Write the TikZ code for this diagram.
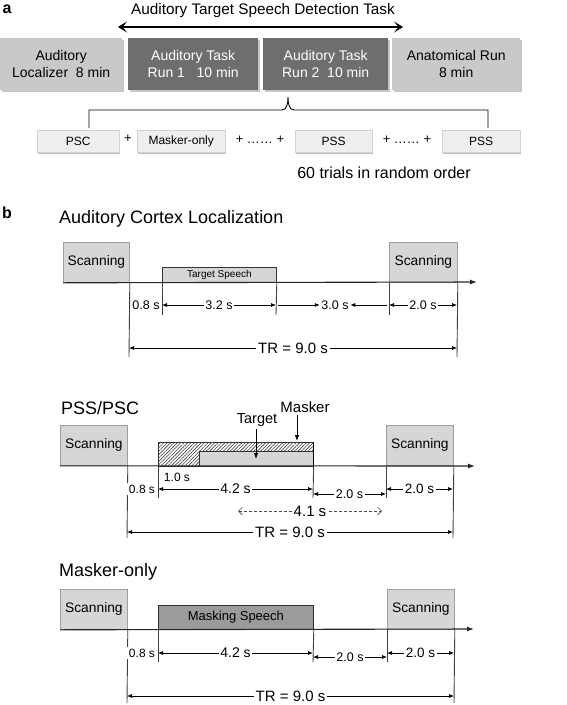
\documentclass[tikz,border=0pt]{standalone}
\usepackage{fontspec}
\setmainfont{Liberation Sans}
\usetikzlibrary{
    positioning,
    arrows.meta,
    shadows,
    patterns.meta,
    calc
}

\definecolor{runlightfill}{HTML}{C9C9C9}
\definecolor{rundarkfill}{HTML}{6E6E6E}
\definecolor{trialfill}{HTML}{EFEFEF}
\definecolor{scanfill}{HTML}{D6D6D6}
\definecolor{maskfill}{HTML}{9B9B9B}

\begin{document}
\begin{tikzpicture}[
    x=1pt, y=-1pt,
    % Estilos de cajas (parte a)
    run_light/.style={rectangle, anchor=north west, inner sep=0pt, align=center, fill=runlightfill,
        font=\fontsize{14}{17}\selectfont, drop shadow={shadow xshift=1.5pt, shadow yshift=-1.5pt, opacity=0.45}},
    run_dark/.style={run_light, fill=rundarkfill, text=white},
    trial_box/.style={rectangle, anchor=north west, inner sep=0pt, minimum height=22, fill=trialfill,
        draw=gray!35, font=\fontsize{12}{14}\selectfont, drop shadow={shadow xshift=0.5pt, shadow yshift=-1.5pt, opacity=0.5}},
    plain/.style={inner sep=1pt, font=\fontsize{13}{15}\selectfont},
    tag/.style={inner sep=0pt, font=\fontsize{16}{18}\selectfont\bfseries},
    heading/.style={inner sep=0pt, font=\fontsize{15.3}{18}\selectfont},
    section/.style={anchor=west, inner sep=0pt, font=\fontsize{18}{21}\selectfont},
    % Estilos de cajas (parte b)
    scan_box/.style={rectangle, anchor=north west, inner sep=0pt, minimum height=40, fill=scanfill,
        draw=gray!75, line width=0.8pt, font=\fontsize{13.8}{16}\selectfont},
    speech_box/.style={rectangle, anchor=north west, inner sep=0pt, fill=scanfill, draw=black!80, line width=0.8pt},
    masker_box/.style={rectangle, anchor=north west, inner sep=0pt, draw=black!80, line width=0.8pt,
        pattern={Lines[angle=45, distance=2.4pt, line width=0.6pt]}, pattern color=black!75},
    % Estilos de flechas
    big_arrow/.style={{Stealth[length=9pt, width=11pt, inset=4.5pt]}-{Stealth[length=9pt, width=11pt, inset=4.5pt]}, line width=1.8pt},
    axis/.style={-{Latex[length=7pt, width=5pt]}, line width=1.1pt, draw=black!85},
    tick/.style={draw=black!75, line width=0.9pt},
    dim/.style={{Latex[length=5pt, width=4pt]}-{Latex[length=5pt, width=4pt]}, line width=0.7pt},
    dim_in/.style={-{Latex[length=5pt, width=4pt]}, line width=0.7pt},
    dashed_dim/.style={{Straight Barb[length=4pt, width=8pt]}-{Straight Barb[length=4pt, width=8pt]}, densely dashed, line width=0.6pt, draw=black!70},
    ptr/.style={-{Latex[length=6pt, width=4.5pt]}, line width=0.8pt},
    dim_lbl/.style={fill=white, inner sep=1.5pt, font=\fontsize{12.5}{14}\selectfont},
    big_lbl/.style={fill=white, inner sep=2pt, font=\fontsize{15}{17}\selectfont}
]
\useasboundingbox (0,0) rectangle (567,705);

% --- PARTE a: secuencia de corridas ---
\node[tag] (tag_a) at (7,9) {a};
\node[heading] (task) at (263,11) {Auditory Target Speech Detection Task};
\coordinate (task_l) at (118,27);
\coordinate (task_r) at (403,27);
\draw[big_arrow] (task_l) -- (task_r);

\node[run_light, minimum width=122, minimum height=52] (loc) at (0,38) {Auditory\\Localizer\ \ 8 min};
\node[run_dark, minimum width=130, minimum height=52] (run1) at (128,38) {Auditory Task\\Run 1\ \ \ 10 min};
\node[run_dark, minimum width=125, minimum height=52] (run2) at (263,38) {Auditory Task\\Run 2\ \ 10 min};
\node[run_light, minimum width=128, minimum height=52] (anat) at (392,38) {Anatomical Run\\8 min};

% llave bajo Run 2
\coordinate (br_l) at (89,128);
\coordinate (br_r) at (488,128);
\coordinate (br_t) at (288,97);
\draw[line width=0.9pt] (br_l) |- ($(br_t)+(-6,13)$) .. controls ($(br_t)+(-1,13)$) and ($(br_t)+(0,6)$) .. (br_t)
    .. controls ($(br_t)+(0,6)$) and ($(br_t)+(1,13)$) .. ($(br_t)+(6,13)$) -| (br_r);

% --- ensayos ---
\node[trial_box, minimum width=82] (psc) at (37,130) {PSC};
\node[trial_box, minimum width=88] (mko) at (137,130) {Masker-only};
\node[trial_box, minimum width=77] (pss_a) at (295,130) {PSS};
\node[trial_box, minimum width=78] (pss_b) at (442,130) {PSS};
\node[plain] (plus_a) at (128,139) {+};
\node[plain] (dots_a) at (260,140) {+ \ldots\ldots\ +};
\node[plain] (dots_b) at (407,140) {+ \ldots\ldots\ +};
\node[inner sep=0pt, font=\fontsize{16}{18}\selectfont] (order) at (384,173) {60 trials in random order};

% --- PARTE b: Auditory Cortex Localization ---
\node[tag] (tag_b) at (7,213) {b};
\node[section] (acl) at (59,219) {Auditory Cortex Localization};

\node[scan_box, minimum width=66] (scan1_l) at (63,242) {Scanning};
\node[scan_box, minimum width=68] (scan1_r) at (389,242) {Scanning};
\node[speech_box, minimum width=114, minimum height=15, font=\fontsize{10}{12}\selectfont] (tsp1) at (162,267) {Target Speech};
\coordinate (ax1) at (477,282);
\draw[axis] (scan1_l.south west) -- (ax1);

\coordinate (t1_a) at (129,357);
\coordinate (t1_b) at (162,315);
\coordinate (t1_c) at (276,315);
\coordinate (t1_d) at (389,315);
\coordinate (t1_e) at (457,357);
\draw[tick] (scan1_l.south east) -- (t1_a);
\draw[tick] (tsp1.south west) -- (t1_b);
\draw[tick] (tsp1.south east) -- (t1_c);
\draw[tick] (scan1_r.south west) -- (t1_d);
\draw[tick] (scan1_r.south east) -- (t1_e);

\node[dim_lbl] (l08_1) at (146,305) {0.8 s};
\coordinate (d1_b) at (162,305);
\coordinate (d1_c) at (276,305);
\coordinate (d1_d) at (389,305);
\coordinate (d1_e) at (457,305);
\draw[dim] (d1_b) -- node[dim_lbl] (l32_1) {3.2 s} (d1_c);
\node[dim_lbl] (l30_1) at (335,305) {3.0 s};
\draw[dim_in] ($(d1_c)+(2,0)$) -- (l30_1);
\draw[dim_in] ($(d1_d)+(-2,0)$) -- (l30_1);
\draw[dim] (d1_d) -- node[dim_lbl] (l20_1) {2.0 s} (d1_e);

\coordinate (tr1_a) at (129,348);
\coordinate (tr1_b) at (457,348);
\draw[dim] (tr1_a) -- node[big_lbl] (tr1) {TR = 9.0 s} (tr1_b);

% --- PSS/PSC ---
\node[section] (psspsc) at (61,408) {PSS/PSC};

\node[scan_box, minimum width=67] (scan2_l) at (60,425) {Scanning};
\node[scan_box, minimum width=67] (scan2_r) at (386,425) {Scanning};
\node[masker_box, minimum width=155, minimum height=24] (msk2) at (158,442) {};
\node[speech_box, minimum width=114, minimum height=15] (tgt2) at (199,451) {};
\draw[line width=1.2pt] (msk2.north east) -- (msk2.south east);

\node[inner sep=0pt, font=\fontsize{14.5}{17}\selectfont] (tgt_lbl) at (257,420) {Target};
\node[inner sep=0pt, font=\fontsize{15}{17}\selectfont] (msk_lbl) at (305,407) {Masker};
\coordinate (tgt_pt) at (256,459);
\coordinate (msk_pt) at (297,441);
\draw[ptr] ($(tgt_lbl.south -| tgt_pt)+(0,2)$) -- (tgt_pt);
\draw[ptr] ($(msk_lbl.south -| msk_pt)+(0,2)$) -- (msk_pt);

\coordinate (ax2) at (475,466);
\draw[axis] (scan2_l.south west) -- (ax2);

\coordinate (t2_a) at (127,538);
\coordinate (t2_b) at (158,498);
\coordinate (t2_c) at (313,498);
\coordinate (t2_d) at (386,498);
\coordinate (t2_e) at (453,538);
\draw[tick] (scan2_l.south east) -- (t2_a);
\draw[tick] (msk2.south west) -- (t2_b);
\draw[tick] (msk2.south east) -- (t2_c);
\draw[tick] (scan2_r.south west) -- (t2_d);
\draw[tick] (scan2_r.south east) -- (t2_e);

\node[dim_lbl, font=\fontsize{12}{14}\selectfont] (l10_2) at (177,477) {1.0 s};
\node[dim_lbl, font=\fontsize{12}{14}\selectfont] (l08_2) at (142,489) {0.8 s};
\coordinate (d2_b) at (158,489);
\coordinate (d2_c) at (313,489);
\coordinate (d2_c2) at (313,494);
\coordinate (d2_d2) at (386,494);
\coordinate (d2_d) at (386,489);
\coordinate (d2_e) at (453,489);
\draw[dim] (d2_b) -- node[dim_lbl, font=\fontsize{14}{16}\selectfont] (l42_2) {4.2 s} (d2_c);
\draw[dim] (d2_c2) -- node[dim_lbl] (l20_2) {2.0 s} (d2_d2);
\draw[dim] (d2_d) -- node[dim_lbl, font=\fontsize{13.5}{16}\selectfont] (l20_2b) {2.0 s} (d2_e);

\coordinate (d41_a) at (238,511);
\coordinate (d41_b) at (382,511);
\draw[dashed_dim] (d41_a) -- node[big_lbl] (l41) {4.1 s} (d41_b);

\coordinate (tr2_a) at (127,532);
\coordinate (tr2_b) at (453,532);
\draw[dim] (tr2_a) -- node[big_lbl] (tr2) {TR = 9.0 s} (tr2_b);

% --- Masker-only ---
\node[section] (mskonly) at (59,572) {Masker-only};

\node[scan_box, minimum width=67] (scan3_l) at (60,589) {Scanning};
\node[scan_box, minimum width=67] (scan3_r) at (387,589) {Scanning};
\node[speech_box, minimum width=155, minimum height=24, fill=maskfill, font=\fontsize{13}{15}\selectfont] (msk3) at (158,605) {Masking Speech};

\coordinate (ax3) at (474,629);
\draw[axis] (scan3_l.south west) -- (ax3);

\coordinate (t3_a) at (127,703);
\coordinate (t3_b) at (158,662);
\coordinate (t3_c) at (313,662);
\coordinate (t3_d) at (387,662);
\coordinate (t3_e) at (454,703);
\draw[tick] (scan3_l.south east) -- (t3_a);
\draw[tick] (msk3.south west) -- (t3_b);
\draw[tick] (msk3.south east) -- (t3_c);
\draw[tick] (scan3_r.south west) -- (t3_d);
\draw[tick] (scan3_r.south east) -- (t3_e);

\node[dim_lbl, font=\fontsize{12}{14}\selectfont] (l08_3) at (142,653) {0.8 s};
\coordinate (d3_b) at (158,653);
\coordinate (d3_c) at (313,653);
\coordinate (d3_c2) at (313,657);
\coordinate (d3_d2) at (387,657);
\coordinate (d3_d) at (387,653);
\coordinate (d3_e) at (454,653);
\draw[dim] (d3_b) -- node[dim_lbl, font=\fontsize{14}{16}\selectfont] (l42_3) {4.2 s} (d3_c);
\draw[dim] (d3_c2) -- node[dim_lbl] (l20_3) {2.0 s} (d3_d2);
\draw[dim] (d3_d) -- node[dim_lbl, font=\fontsize{13.5}{16}\selectfont] (l20_3b) {2.0 s} (d3_e);

\coordinate (tr3_a) at (127,696);
\coordinate (tr3_b) at (454,696);
\draw[dim] (tr3_a) -- node[big_lbl] (tr3) {TR = 9.0 s} (tr3_b);

\end{tikzpicture}
\end{document}
